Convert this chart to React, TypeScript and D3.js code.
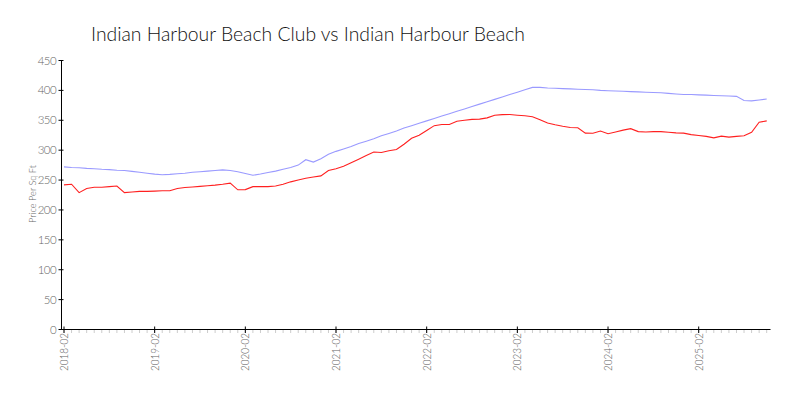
import React from "react";
import * as d3 from "d3";

const title = "Indian Harbour Beach Club vs Indian Harbour Beach";
const yLabel = "Price Per Sq Ft";
const startYear = 2018;
const startMonth = 2;

const clubValues = [
  242, 243, 229, 236, 238, 238, 239, 240, 229, 230, 231, 231,
  231.5, 232, 232, 236, 237.5, 238.5, 239.5, 240.5, 241.5, 243, 244.8, 233.7,
  234, 239, 239, 239, 240, 243, 247, 250, 253, 255, 257, 266,
  269, 273, 279, 285, 291, 297, 296, 299, 301, 310, 320, 325,
  333, 341, 343, 343, 348.5, 350, 351.5, 352, 354, 358.5, 359.5, 359.7,
  358.5, 357.5, 356, 351, 345.5, 342.5, 340, 338, 337.4, 328.5, 328.4, 332,
  327.5, 330.5, 333.5, 336, 331, 330.5, 331, 331, 330, 329, 328.5, 326,
  324.5, 323, 320.6, 323.4, 321.8, 323, 324, 330, 346.8, 349,
];

const beachValues = [
  272, 271, 270.5, 269.5, 269, 268, 267.5, 266.5, 266, 264.5, 263, 261.5,
  260, 259, 259.5, 260.5, 261.5, 263, 264, 265, 266, 267, 266, 264,
  261, 258, 260, 262.5, 265, 268, 271, 275, 284, 280, 285.5, 293,
  298, 302, 306, 311, 315, 319, 324, 328, 332, 337, 341, 345,
  349, 353, 357, 361, 365, 369, 373, 377, 381, 385, 389, 393,
  397, 401, 405, 405, 404, 403.5, 403, 402.5, 402, 401.5, 401, 400,
  399.5, 399, 398.5, 398, 397.5, 397, 396.5, 396, 395, 394, 393, 393,
  392.5, 392, 391.5, 391, 390.5, 390, 383, 382.5, 384, 385.5,
];

const yTicks = [0, 50, 100, 150, 200, 250, 300, 350, 400, 450];

const monthLabels = clubValues.map((_, i) => {
  const m = startMonth - 1 + i;
  const y = startYear + Math.floor(m / 12);
  const mm = (m % 12) + 1;
  return `${y}-${String(mm).padStart(2, "0")}`;
});

const FONT = "Lato, 'DejaVu Sans', sans-serif";

export default function App() {
  const W = 800;
  const H = 400;
  const axisX = 61.5;
  const axisY = 329.5;
  const x = d3.scaleLinear().domain([0, clubValues.length - 1]).range([64, 766.7]);
  const y = d3.scaleLinear().domain([0, 450]).range([329.5, 60.5]);

  const line = d3
    .line<number>()
    .x((_, i) => x(i))
    .y((d) => y(d));

  const majorIdx = monthLabels.map((_, i) => i).filter((i) => i % 12 === 0);

  return (
    <svg
      width={W}
      height={H}
      style={{ position: "absolute", left: 0, top: 0, background: "#fff" }}
    >
      <text
        x={91}
        y={40.5}
        fontFamily={FONT}
        fontWeight={300}
        fontSize={20}
        fill="#111"
        textLength={434}
        lengthAdjust="spacingAndGlyphs"
      >
        {title}
      </text>

      {/* minor ticks */}
      {monthLabels.map((_, i) => (
        <line
          key={"m" + i}
          x1={x(i)}
          x2={x(i)}
          y1={axisY}
          y2={axisY + 3.5}
          stroke="#ccc"
          strokeWidth={1}
        />
      ))}

      {/* x axis */}
      <line x1={axisX} x2={770.5} y1={axisY} y2={axisY} stroke="#000" strokeWidth={1} />
      {majorIdx.map((i) => (
        <g key={"x" + i}>
          <line x1={x(i)} x2={x(i)} y1={axisY - 3} y2={axisY + 3.5} stroke="#000" strokeWidth={1} />
          <text
            transform={`translate(${x(i) + 4},${333}) rotate(-90)`}
            textAnchor="end"
            fontFamily={FONT}
            fontWeight={300}
            fontSize={11}
            fill="#666"
            textLength={38}
            lengthAdjust="spacingAndGlyphs"
          >
            {monthLabels[i]}
          </text>
        </g>
      ))}

      {/* y axis */}
      <line x1={axisX} x2={axisX} y1={60} y2={axisY} stroke="#000" strokeWidth={1} />
      {yTicks.map((t) => (
        <g key={"y" + t}>
          <line x1={axisX - 3} x2={axisX + 2} y1={y(t)} y2={y(t)} stroke="#000" strokeWidth={1} />
          <text
            x={56}
            y={y(t) + 4}
            textAnchor="end"
            fontFamily={FONT}
            fontWeight={300}
            fontSize={11.5}
            fill="#666"
            letterSpacing={-0.6}
          >
            {t}
          </text>
        </g>
      ))}
      <text
        transform={`translate(${36},${194}) rotate(-90)`}
        textAnchor="middle"
        fontFamily={FONT}
        fontWeight={300}
        fontSize={10}
        fill="#666"
        textLength={58}
        lengthAdjust="spacingAndGlyphs"
      >
        {yLabel}
      </text>

      <path d={line(beachValues) || ""} fill="none" stroke="#9a9aff" strokeWidth={1.1} />
      <path d={line(clubValues) || ""} fill="none" stroke="#ff2020" strokeWidth={1.1} />
    </svg>
  );
}
